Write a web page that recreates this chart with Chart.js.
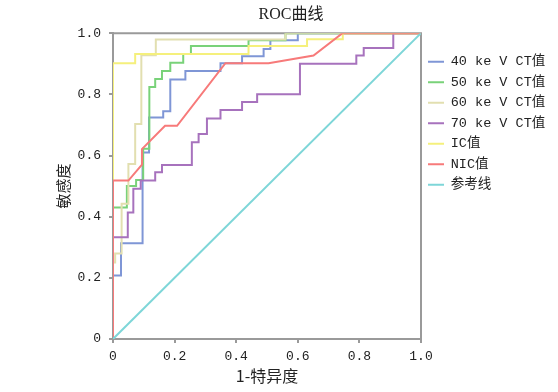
<!DOCTYPE html>
<html>
<head>
<meta charset="utf-8">
<script src="https://cdn.jsdelivr.net/npm/chart.js@4.4.1/dist/chart.umd.min.js"></script>
<style>
  html, body { margin: 0; padding: 0; background: #fff; }
</style>
</head>
<body>
<canvas id="myChart" width="558" height="392"></canvas>
<script>
// series names (legend order)
const seriesNames = ['40 ke V CT值', '50 ke V CT值', '60 ke V CT值', '70 ke V CT值', 'IC值', 'NIC值', '参考线'];

// 1-特异度 / 敏感度 corner points
const fpr40 = [0, 0, 0.026, 0.026, 0.096, 0.096, 0.117, 0.117, 0.163, 0.163, 0.186, 0.186, 0.235, 0.235, 0.349, 0.349, 0.419, 0.419, 0.489, 0.489, 0.511, 0.511, 0.6, 0.6, 1];
const tpr40 = [0, 0.208, 0.208, 0.313, 0.313, 0.61, 0.61, 0.724, 0.724, 0.745, 0.745, 0.849, 0.849, 0.876, 0.876, 0.902, 0.902, 0.925, 0.925, 0.948, 0.948, 0.977, 0.977, 1, 1];

const fpr50 = [0, 0, 0.045, 0.045, 0.075, 0.075, 0.098, 0.098, 0.118, 0.118, 0.137, 0.137, 0.159, 0.159, 0.186, 0.186, 0.228, 0.228, 0.253, 0.253, 0.44, 0.44, 0.56, 0.56, 1];
const tpr50 = [0, 0.43, 0.43, 0.5, 0.5, 0.52, 0.52, 0.622, 0.622, 0.824, 0.824, 0.85, 0.85, 0.876, 0.876, 0.903, 0.903, 0.932, 0.932, 0.958, 0.958, 0.977, 0.977, 1, 1];

const fpr60 = [0, 0, 0.007, 0.007, 0.028, 0.028, 0.05, 0.05, 0.072, 0.072, 0.092, 0.092, 0.139, 0.139, 0.56, 0.56, 1];
const tpr60 = [0, 0.25, 0.25, 0.28, 0.28, 0.442, 0.442, 0.572, 0.572, 0.703, 0.703, 0.928, 0.928, 0.979, 0.979, 1, 1];

const fpr70 = [0, 0, 0.048, 0.048, 0.066, 0.066, 0.09, 0.09, 0.137, 0.137, 0.159, 0.159, 0.256, 0.256, 0.278, 0.278, 0.305, 0.305, 0.349, 0.349, 0.419, 0.419, 0.468, 0.468, 0.607, 0.607, 0.79, 0.79, 0.814, 0.814, 0.91, 0.91, 1];
const tpr70 = [0, 0.333, 0.333, 0.414, 0.414, 0.491, 0.491, 0.518, 0.518, 0.545, 0.545, 0.569, 0.569, 0.643, 0.643, 0.67, 0.67, 0.721, 0.721, 0.749, 0.749, 0.775, 0.775, 0.8, 0.8, 0.9, 0.9, 0.927, 0.927, 0.952, 0.952, 1, 1];

const fprIC = [0, 0, 0.072, 0.072, 0.44, 0.44, 0.63, 0.63, 0.746, 0.746, 1];
const tprIC = [0, 0.902, 0.902, 0.932, 0.932, 0.958, 0.958, 0.98, 0.98, 1, 1];

const fprNIC = [0, 0, 0.05, 0.094, 0.094, 0.169, 0.208, 0.365, 0.505, 0.651, 0.745, 1];
const tprNIC = [0, 0.518, 0.518, 0.57, 0.621, 0.697, 0.697, 0.902, 0.902, 0.927, 1, 1];

const fprRef = [0, 1];
const tprRef = [0, 1];

// axis ticks
const tickValues = [0, 0.2, 0.4, 0.6, 0.8, 1.0];
const tickLabels = ['0', '0.2', '0.4', '0.6', '0.8', '1.0'];

const lineColors = ['#7f96d6', '#79d279', '#e2dfb0', '#a772bd', '#f5f07c', '#f77a7a', '#7ed6d8'];

const monoFont = "'Liberation Mono', 'Noto Sans CJK SC', monospace";
const serifFont = "'Liberation Serif', 'Noto Sans CJK SC', serif";
const cjkFont = "'Noto Sans CJK SC', 'Liberation Serif', sans-serif";

const toPoints = (xs, ys) => xs.map((x, i) => ({x: x, y: ys[i]}));
const curves = [
    toPoints(fpr40, tpr40),
    toPoints(fpr50, tpr50),
    toPoints(fpr60, tpr60),
    toPoints(fpr70, tpr70),
    toPoints(fprIC, tprIC),
    toPoints(fprNIC, tprNIC),
    toPoints(fprRef, tprRef)
];

const padLeft = 31;
const padRight = 7;

// top and right edges of the plot frame
const framePlugin = {
    id: 'frame',
    beforeDatasetsDraw(chart) {
        const {ctx, chartArea: a} = chart;
        ctx.save();
        ctx.strokeStyle = '#9a9a9a';
        ctx.lineWidth = 2;
        ctx.beginPath();
        ctx.moveTo(a.left, a.top);
        ctx.lineTo(a.right, a.top);
        ctx.lineTo(a.right, a.bottom);
        ctx.stroke();
        ctx.restore();
    }
};

const setTicks = scale => {
    scale.ticks = tickValues.map(v => ({value: v}));
};

const canvasContext = document.getElementById('myChart').getContext('2d');

const myChart = new Chart(canvasContext, {
    type: 'scatter',
    data: {
        datasets: seriesNames.map((name, i) => ({
            label: name,
            data: curves[i],
            showLine: true,
            borderColor: lineColors[i],
            backgroundColor: lineColors[i],
            borderWidth: 2,
            pointRadius: 0,
            pointHoverRadius: 0,
            tension: 0,
            fill: false,
            order: seriesNames.length - i
        }))
    },
    options: {
        responsive: false,
        animation: false,
        layout: {
            padding: {left: padLeft, right: padRight, top: 0, bottom: 0}
        },
        scales: {
            x: {
                type: 'linear',
                min: 0,
                max: 1,
                afterBuildTicks: setTicks,
                afterFit: s => { s.height = 53; },
                ticks: {
                    callback: (v, i) => tickLabels[i],
                    font: {family: monoFont, size: 13},
                    color: '#222',
                    padding: 6,
                    maxRotation: 0
                },
                grid: {drawOnChartArea: false, drawTicks: true, tickLength: 4, color: '#9a9a9a', lineWidth: 2},
                border: {display: true, color: '#9a9a9a', width: 2},
                title: {
                    display: true,
                    text: '1-特异度',
                    font: {family: cjkFont, size: 16},
                    color: '#222',
                    padding: {top: 0, bottom: 6}
                }
            },
            y: {
                type: 'linear',
                min: 0,
                max: 1,
                afterBuildTicks: setTicks,
                afterFit: s => { s.width = 113 - padLeft; },
                ticks: {
                    callback: (v, i) => tickLabels[i],
                    font: {family: monoFont, size: 13},
                    color: '#222',
                    padding: 8
                },
                grid: {drawOnChartArea: false, drawTicks: true, tickLength: 4, color: '#9a9a9a', lineWidth: 2},
                border: {display: true, color: '#9a9a9a', width: 2},
                title: {
                    display: true,
                    text: '敏感度',
                    font: {family: cjkFont, size: 15},
                    color: '#222',
                    padding: {top: 54 - padLeft, bottom: 0}
                }
            }
        },
        plugins: {
            title: {
                display: true,
                text: 'ROC曲线',
                font: {family: serifFont, size: 16, weight: 'normal'},
                color: '#222',
                padding: {top: 5, bottom: 9}
            },
            legend: {
                position: 'right',
                align: 'start',
                title: {
                    display: true,
                    text: ' ',
                    font: {size: 10, lineHeight: 1},
                    padding: 19
                },
                labels: {
                    boxWidth: 16,
                    boxHeight: 2,
                    padding: 7,
                    color: '#222',
                    font: {family: monoFont, size: 13.5},
                    sort: (a, b) => a.datasetIndex - b.datasetIndex,
                    generateLabels(chart) {
                        const items = Chart.defaults.plugins.legend.labels.generateLabels(chart);
                        items.forEach(it => { it.lineWidth = 0; });
                        return items;
                    }
                }
            },
            tooltip: {enabled: false}
        }
    },
    plugins: [framePlugin]
});
</script>
</body>
</html>
